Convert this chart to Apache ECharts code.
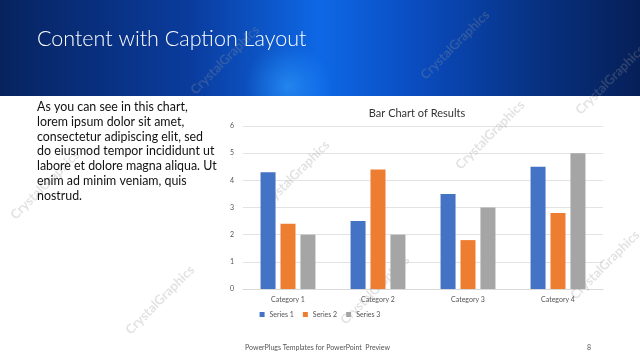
<!DOCTYPE html>
<html><head><meta charset="utf-8">
<script src="https://cdn.jsdelivr.net/npm/echarts@6/dist/echarts.min.js"></script>
<style>html,body{margin:0;padding:0;background:#fff}#c{width:640px;height:360px}</style>
</head><body><div id="c"></div>
<script>
const categories = ['Category 1','Category 2','Category 3','Category 4'];
const seriesNames = ['Series 1','Series 2','Series 3'];
const series1 = [4.3, 2.5, 3.5, 4.5];
const series2 = [2.4, 4.4, 1.8, 2.8];
const series3 = [2, 2, 3, 5];
const yTicks = [0,1,2,3,4,5,6];
const colors = ['#4472C4','#ED7D31','#A5A5A5'];
const slideTitle = 'Content with Caption Layout';
const chartTitle = 'Bar Chart of Results';
const captionLines = ['As you can see in this chart,','lorem ipsum dolor sit amet,','consectetur adipiscing elit, sed','do eiusmod tempor incididunt ut','labore et dolore magna aliqua. Ut','enim ad minim veniam, quis','nostrud.'];
const footer = 'PowerPlugs Templates for PowerPoint  Preview';
const pageNo = '8';
const wm = 'CrystalGraphics';

const font = 'Lato';
const chart = echarts.init(document.getElementById('c'), null, {renderer:'canvas'});
const graphics = [
  {type:'rect', z:-10, shape:{x:0,y:0,width:640,height:96}, style:{fill:{type:'linear',x:0,y:0,x2:1,y2:0,colorStops:[
    {offset:0,color:'#07235f'},{offset:0.3,color:'#0a3c9e'},{offset:0.5,color:'#0e68e6'},{offset:0.65,color:'#0a4cc0'},{offset:0.85,color:'#07307e'},{offset:1,color:'#061f58'}]}}},
  {type:'rect', z:-9, shape:{x:0,y:0,width:640,height:96}, style:{fill:{type:'radial',x:0.45,y:0.9,r:0.45,colorStops:[
    {offset:0,color:'rgba(50,160,255,0.6)'},{offset:1,color:'rgba(40,150,255,0)'}]}}},
  {type:'text', left:37, top:28, z:5, style:{text:slideTitle, fill:'#ffffff', font:'300 21.5px '+font}},
  {type:'text', left:37, top:100, z:5, style:{text:captionLines.join('\n'), fill:'#111111', font:'12.4px '+font, lineHeight:14.7}},
  {type:'text', left:245, top:344, z:5, style:{text:footer, fill:'#555', font:'7px '+font}},
  {type:'text', left:587, top:344, z:5, style:{text:pageNo, fill:'#555', font:'7px '+font}}
];
const wmPos = [[45,185],[295,175],[375,290],[160,300],[610,80],[605,265],[455,45],[225,60],[490,135]];
wmPos.forEach(p=>{
  graphics.push({type:'text', x:p[0], y:p[1], rotation:Math.PI*0.25, z:1, style:{text:wm, fill:'rgba(150,150,150,0.28)', font:'bold 13px '+font, align:'center', verticalAlign:'middle'}});
});
chart.setOption({
  animation:false,
  title:{text:chartTitle, left:412, top:103, textAlign:'center', textStyle:{fontFamily:font, fontSize:11, fontWeight:'normal', color:'#333'}},
  legend:{bottom:37, left:'center', itemWidth:5, itemHeight:5, itemGap:9, icon:'rect', textStyle:{fontFamily:font, fontSize:7, color:'#555'}, data:seriesNames},
  grid:{left:243, right:37, top:126, bottom:71},
  xAxis:{type:'category', data:categories, axisLine:{lineStyle:{color:'#d9d9d9'}}, axisTick:{show:false}, axisLabel:{fontFamily:font, fontSize:7, color:'#555', margin:7}},
  yAxis:{type:'value', min:0, max:6, interval:1, axisLine:{show:false}, axisTick:{show:false}, splitLine:{lineStyle:{color:'#e3e3e3'}}, axisLabel:{fontFamily:font, fontSize:7, color:'#555', margin:9, formatter:v=>yTicks.includes(v)?String(v):''}},
  series:[
    {name:seriesNames[0], type:'bar', data:series1, barWidth:15, barGap:'33%', itemStyle:{color:colors[0]}},
    {name:seriesNames[1], type:'bar', data:series2, barWidth:15, barGap:'33%', itemStyle:{color:colors[1]}},
    {name:seriesNames[2], type:'bar', data:series3, barWidth:15, barGap:'33%', itemStyle:{color:colors[2]}}
  ],
  graphic:graphics
});
</script></body></html>
